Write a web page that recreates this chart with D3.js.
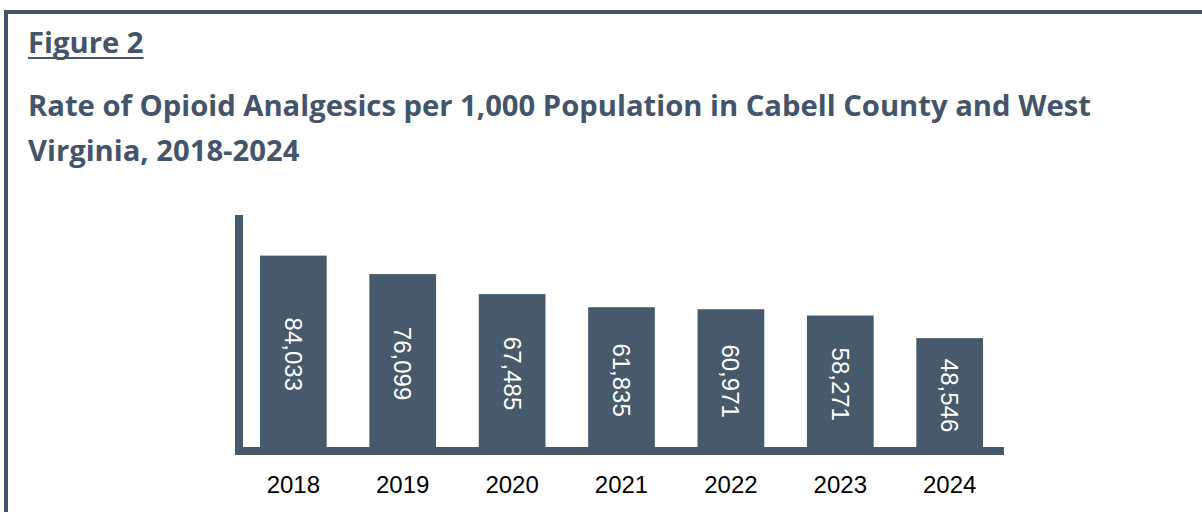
<!DOCTYPE html>
<meta charset="utf-8">
<script src="https://d3js.org/d3.v7.min.js"></script>
<style>
body { margin: 0; background: #fff; }
.title { font-family: "Open Sans", sans-serif; font-weight: 700; fill: #44546a; }
.year text { font-family: "Liberation Sans", Arial, sans-serif; font-size: 24px; fill: #000; }
.barLabel { font-family: "Liberation Sans", Arial, sans-serif; font-size: 24px; fill: #fff; }
</style>
<body></body>
<script>

// data
var years = ['2018', '2019', '2020', '2021', '2022', '2023', '2024'];
var rates = [84033, 76099, 67485, 61835, 60971, 58271, 48546];

var data = years.map(function(y, i) { return {year: y, value: rates[i]}; });

var W = 1202, H = 512;
var frameColor = '#44546a',
    barColor = '#475a6b';

var svg = d3.select('body').append('svg')
    .attr('width', W)
    .attr('height', H);

// frame (top and left border)
svg.append('rect').attr('x', 4).attr('y', 10).attr('width', W - 4).attr('height', 4).attr('fill', frameColor);
svg.append('rect').attr('x', 4).attr('y', 10).attr('width', 4).attr('height', H - 10).attr('fill', frameColor);

// titles
var t1 = svg.append('text')
    .attr('class', 'title')
    .attr('x', 28).attr('y', 116)
    .style('font-size', '26px')
    .text('Rate of Opioid Analgesics per 1,000 Population in Cabell County and West');
// fit the first line to the width it has in the figure
var fs = 26 * 1063 / t1.node().getComputedTextLength();
t1.style('font-size', fs + 'px');

svg.append('text')
    .attr('class', 'title')
    .attr('x', 28).attr('y', 161)
    .style('font-size', fs + 'px')
    .text('Virginia, 2018-2024');

var fig = svg.append('text')
    .attr('class', 'title')
    .attr('x', 28).attr('y', 53)
    .style('font-size', fs + 'px')
    .text('Figure 2');
var fw = fig.node().getComputedTextLength();
svg.append('rect')
    .attr('x', 28).attr('y', 57)
    .attr('width', fw).attr('height', 2)
    .attr('fill', frameColor);

// scales
var x = d3.scaleBand()
    .domain(years)
    .range([243, 1000])
    .paddingInner(0.39)
    .paddingOuter(0.155);

var y = d3.scaleLinear()
    .domain([0, 101500])
    .range([451, 215]);

// bars
svg.selectAll('.bar')
  .data(data).enter().append('rect')
    .attr('class', 'bar')
    .attr('x', function(d) { return x(d.year); })
    .attr('width', x.bandwidth())
    .attr('y', function(d) { return y(d.value); })
    .attr('height', function(d) { return y(0) - y(d.value); })
    .attr('fill', barColor);

// axis lines
svg.append('rect')
    .attr('x', 235).attr('y', y.range()[1])
    .attr('width', 8).attr('height', 454 - y.range()[1])
    .attr('fill', barColor);
svg.append('rect')
    .attr('x', 235).attr('y', 447)
    .attr('width', 1004 - 235).attr('height', 8)
    .attr('fill', barColor);

// value labels, rotated
var fmt = d3.format(',');
svg.selectAll('.barLabel')
  .data(data).enter().append('text')
    .attr('class', 'barLabel')
    .attr('text-anchor', 'middle')
    .attr('dominant-baseline', 'central')
    .attr('transform', function(d) {
      var cx = x(d.year) + x.bandwidth() / 2;
      var cy = (y(d.value) + 447) / 2 + 3;
      return 'translate(' + cx + ',' + cy + ') rotate(90)';
    })
    .text(function(d) { return fmt(d.value); });

// x axis labels
var xAxis = d3.axisBottom(x).tickSize(0).tickPadding(0);
var gx = svg.append('g')
    .attr('class', 'year')
    .attr('transform', 'translate(0,476)')
    .call(xAxis);
gx.select('.domain').remove();
gx.selectAll('text').attr('dy', '0.71em').attr('font-size', null).attr('font-family', null);

</script>
